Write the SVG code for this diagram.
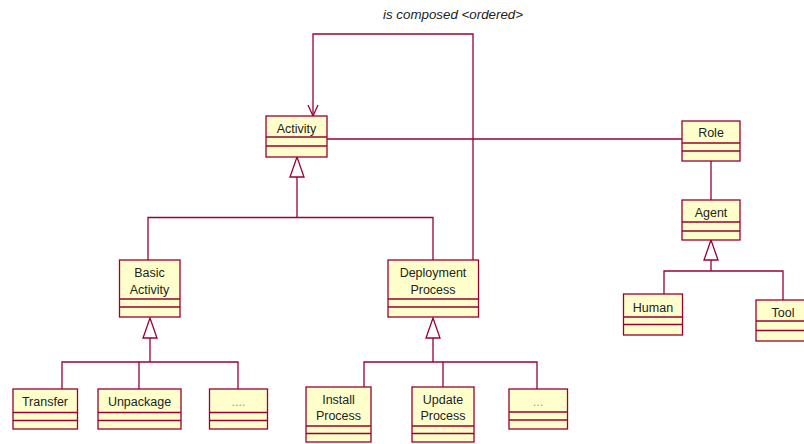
<svg xmlns="http://www.w3.org/2000/svg" width="804" height="444" viewBox="0 0 804 444">
<style>
.box{fill:#FFFFCC;stroke:#990033;stroke-width:1.3}
.ln{fill:none;stroke:#990033;stroke-width:1.3}
.tri{fill:#fff;stroke:#990033;stroke-width:1.3}
text{font-family:"Liberation Sans",Arial,sans-serif;font-size:12.5px;fill:#222;text-anchor:middle}
.dots{fill:#999}
.lbl{font-style:italic;font-size:13px;text-anchor:start}
</style>
<rect width="804" height="444" fill="#fff"/>
<g id="connectors">
<text class="lbl" x="383" y="19" textLength="140" lengthAdjust="spacingAndGlyphs">is composed &lt;ordered&gt;</text>
<polyline class="ln" points="473,260 473,34 313,34 313,116"/>
<polyline class="ln" points="308,105 313,116 318,105"/>
<line class="ln" x1="327" y1="139" x2="682" y2="139"/>
<line class="ln" x1="711" y1="161" x2="711" y2="200"/>
<polygon class="tri" points="297,157 290,177 304,177"/>
<line class="ln" x1="297" y1="177" x2="297" y2="217.5"/>
<polyline class="ln" points="148,260 148,217.5 433,217.5 433,260"/>
<polygon class="tri" points="150,318 143,338 157,338"/>
<line class="ln" x1="150" y1="338" x2="150" y2="362"/>
<polyline class="ln" points="62,389 62,362 238,362 238,389"/>
<line class="ln" x1="139" y1="362" x2="139" y2="389"/>
<polygon class="tri" points="433,318 426,338 440,338"/>
<line class="ln" x1="433" y1="338" x2="433" y2="362"/>
<polyline class="ln" points="364,387 364,362 537,362 537,389"/>
<line class="ln" x1="443" y1="362" x2="443" y2="387"/>
<polygon class="tri" points="711,240 704,260 718,260"/>
<line class="ln" x1="711" y1="260" x2="711" y2="271"/>
<polyline class="ln" points="664,294 664,271 783,271 783,300"/>
</g>
<g id="activity">
<rect class="box" x="266" y="116" width="61" height="41"/>
<line class="ln" x1="266" y1="137" x2="327" y2="137"/><line class="ln" x1="266" y1="146" x2="327" y2="146"/>
<text x="296.5" y="133">Activity</text>
</g>
<g id="role">
<rect class="box" x="682" y="121" width="58" height="40"/>
<line class="ln" x1="682" y1="143" x2="740" y2="143"/><line class="ln" x1="682" y1="151" x2="740" y2="151"/>
<text x="711" y="137">Role</text>
</g>
<g id="agent">
<rect class="box" x="682" y="200" width="58" height="40"/>
<line class="ln" x1="682" y1="222" x2="740" y2="222"/><line class="ln" x1="682" y1="231" x2="740" y2="231"/>
<text x="711" y="217">Agent</text>
</g>
<g id="human">
<rect class="box" x="623.5" y="294" width="59" height="41"/>
<line class="ln" x1="623.5" y1="317" x2="682.5" y2="317"/><line class="ln" x1="623.5" y1="324.5" x2="682.5" y2="324.5"/>
<text x="653" y="312">Human</text>
</g>
<g id="tool">
<rect class="box" x="756" y="300" width="56" height="41"/>
<line class="ln" x1="756" y1="321" x2="812" y2="321"/><line class="ln" x1="756" y1="330.5" x2="812" y2="330.5"/>
<text x="783" y="317">Tool</text>
</g>
<g id="basic-activity">
<rect class="box" x="119.5" y="260" width="60.5" height="57"/>
<line class="ln" x1="119.5" y1="299" x2="180" y2="299"/><line class="ln" x1="119.5" y1="307" x2="180" y2="307"/>
<text x="149.5" y="277">Basic</text>
<text x="149.5" y="294">Activity</text>
</g>
<g id="deployment-process">
<rect class="box" x="388" y="260" width="90.5" height="57"/>
<line class="ln" x1="388" y1="299" x2="478.5" y2="299"/><line class="ln" x1="388" y1="307" x2="478.5" y2="307"/>
<text x="433" y="277">Deployment</text>
<text x="433" y="294">Process</text>
</g>
<g id="transfer">
<rect class="box" x="13" y="389" width="64.5" height="40"/>
<line class="ln" x1="13" y1="412.5" x2="77.5" y2="412.5"/><line class="ln" x1="13" y1="420.5" x2="77.5" y2="420.5"/>
<text x="45" y="406">Transfer</text>
</g>
<g id="unpackage">
<rect class="box" x="98" y="389" width="83" height="40"/>
<line class="ln" x1="98" y1="412.5" x2="181" y2="412.5"/><line class="ln" x1="98" y1="420.5" x2="181" y2="420.5"/>
<text x="139.5" y="406">Unpackage</text>
</g>
<g id="basic-more">
<rect class="box" x="209.5" y="389" width="58" height="40"/>
<line class="ln" x1="209.5" y1="412.5" x2="267.5" y2="412.5"/><line class="ln" x1="209.5" y1="420.5" x2="267.5" y2="420.5"/>
<text class="dots" x="238.5" y="406">....</text>
</g>
<g id="install-process">
<rect class="box" x="306" y="387" width="65" height="55"/>
<line class="ln" x1="306" y1="426" x2="371" y2="426"/><line class="ln" x1="306" y1="433.5" x2="371" y2="433.5"/>
<text x="338.5" y="403.5">Install</text>
<text x="338.5" y="419.5">Process</text>
</g>
<g id="update-process">
<rect class="box" x="412" y="387" width="62" height="55"/>
<line class="ln" x1="412" y1="426" x2="474" y2="426"/><line class="ln" x1="412" y1="433.5" x2="474" y2="433.5"/>
<text x="443" y="403.5">Update</text>
<text x="443" y="419.5">Process</text>
</g>
<g id="deploy-more">
<rect class="box" x="509" y="389" width="58.5" height="40"/>
<line class="ln" x1="509" y1="412" x2="567.5" y2="412"/><line class="ln" x1="509" y1="420" x2="567.5" y2="420"/>
<text class="dots" x="538" y="406">...</text>
</g>
</svg>
